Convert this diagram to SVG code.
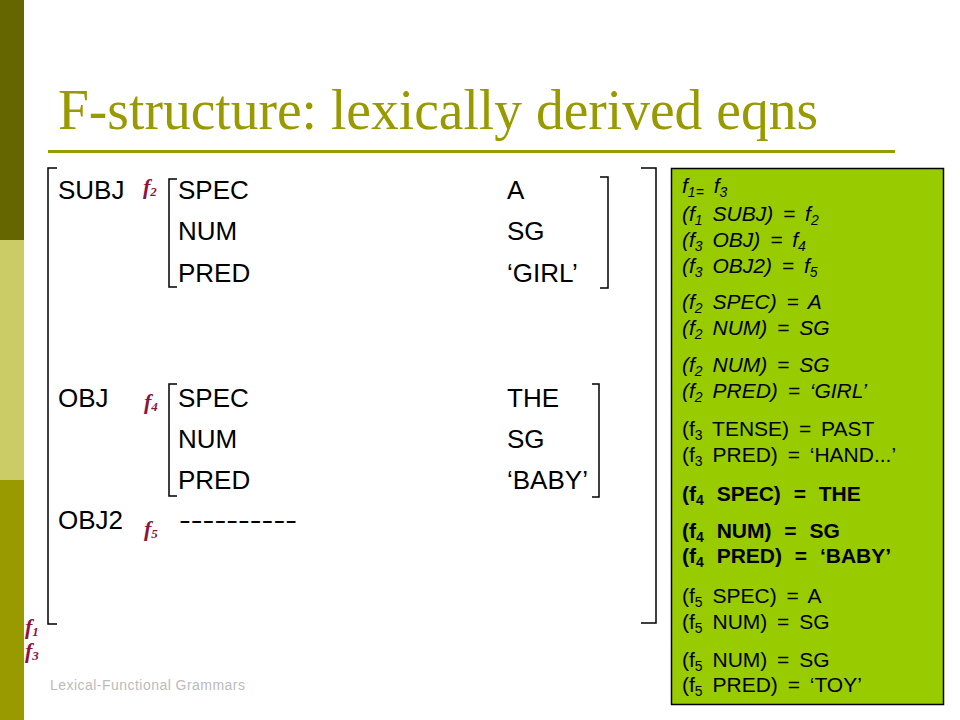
<svg xmlns="http://www.w3.org/2000/svg" width="960" height="720" viewBox="0 0 960 720">
<style>
.fs{font-family:"Liberation Sans",Arial,sans-serif;font-size:26px;fill:#000}
.lbl{font-family:"Liberation Serif","Times New Roman",serif;font-style:italic;font-weight:bold;font-size:22px;fill:#8c1440}
.lbl .s{font-size:13px}
.eq{font-family:"Liberation Sans",Arial,sans-serif;font-size:21px;fill:#000;word-spacing:4px}
.eq .s{font-size:14px}
.it{font-style:italic}
.bd{font-weight:bold;word-spacing:7px}
.br{fill:none;stroke:#000;stroke-width:1.5}
</style>
<rect x="0" y="0" width="960" height="720" fill="#fff"/>
<g id="sidebar">
<rect x="0" y="0" width="24" height="240" fill="#666600"/>
<rect x="0" y="240" width="24" height="240" fill="#cccc66"/>
<rect x="0" y="480" width="24" height="240" fill="#999900"/>
</g>
<g id="title">
<text x="58" y="129" font-family="'Liberation Serif','Times New Roman',serif" font-size="56" fill="#999900" textLength="760" lengthAdjust="spacingAndGlyphs">F-structure: lexically derived eqns</text>
<rect x="48" y="150" width="847" height="3" fill="#999900"/>
</g>
<g id="connectors"></g>
<g id="fstructure">
<g id="outer-brackets">
<path class="br" d="M57,168 H48 V624 H57"/>
<path class="br" d="M641,168 H656 V623 H641"/>
</g>
<g id="subj">
<text class="fs" x="58" y="199">SUBJ</text>
<text class="lbl" x="143" y="194">f<tspan class="s" dy="2">2</tspan></text>
<path class="br" d="M177,179 H169 V287 H177"/>
<path class="br" d="M600,177 H608 V288 H600"/>
<text class="fs" x="178" y="199">SPEC</text>
<text class="fs" x="178" y="240">NUM</text>
<text class="fs" x="178" y="282">PRED</text>
<text class="fs" x="507" y="199">A</text>
<text class="fs" x="507" y="240">SG</text>
<text class="fs" x="507" y="282">‘GIRL’</text>
</g>
<g id="obj">
<text class="fs" x="58" y="407">OBJ</text>
<text class="lbl" x="144" y="409">f<tspan class="s" dy="2">4</tspan></text>
<path class="br" d="M177,384 H169 V496 H177"/>
<path class="br" d="M592,384 H599 V497 H592"/>
<text class="fs" x="178" y="407">SPEC</text>
<text class="fs" x="178" y="448">NUM</text>
<text class="fs" x="178" y="489">PRED</text>
<text class="fs" x="507" y="407">THE</text>
<text class="fs" x="507" y="448">SG</text>
<text class="fs" x="507" y="489">‘BABY’</text>
</g>
<g id="obj2">
<text class="fs" x="58" y="529">OBJ2</text>
<text class="lbl" x="144" y="536">f<tspan class="s" dy="2">5</tspan></text>
<text class="fs" x="179" y="529" textLength="118" lengthAdjust="spacingAndGlyphs">----------</text>
</g>
<g id="f1f3">
<text class="lbl" x="25" y="634" font-size="23">f<tspan class="s" dy="2">1</tspan></text>
<text class="lbl" x="25" y="658" font-size="23">f<tspan class="s" dy="2">3</tspan></text>
</g>
</g>
<g id="equations">
<rect x="671.5" y="168.5" width="272" height="536" fill="#99cc00" stroke="#000" stroke-width="1.5"/>
<g class="eq">
<text class="it" x="682" y="193">f<tspan class="s" dy="4">1=</tspan><tspan dy="-4"> f</tspan><tspan class="s" dy="4">3</tspan></text>
<text class="it" x="682" y="221">(f<tspan class="s" dy="4">1</tspan><tspan dy="-4"> SUBJ) = f</tspan><tspan class="s" dy="4">2</tspan></text>
<text class="it" x="682" y="247">(f<tspan class="s" dy="4">3</tspan><tspan dy="-4"> OBJ) = f</tspan><tspan class="s" dy="4">4</tspan></text>
<text class="it" x="682" y="273">(f<tspan class="s" dy="4">3</tspan><tspan dy="-4"> OBJ2) = f</tspan><tspan class="s" dy="4">5</tspan></text>
<text class="it" x="682" y="309">(f<tspan class="s" dy="4">2</tspan><tspan dy="-4"> SPEC) = A</tspan></text>
<text class="it" x="682" y="335">(f<tspan class="s" dy="4">2</tspan><tspan dy="-4"> NUM) = SG</tspan></text>
<text class="it" x="682" y="372">(f<tspan class="s" dy="4">2</tspan><tspan dy="-4"> NUM) = SG</tspan></text>
<text class="it" x="682" y="398">(f<tspan class="s" dy="4">2</tspan><tspan dy="-4"> PRED) = ‘GIRL’</tspan></text>
<text x="682" y="436">(f<tspan class="s" dy="4">3</tspan><tspan dy="-4"> TENSE) = PAST</tspan></text>
<text x="682" y="462">(f<tspan class="s" dy="4">3</tspan><tspan dy="-4"> PRED) = ‘HAND...’</tspan></text>
<text class="bd" x="682" y="501">(f<tspan class="s" dy="4">4</tspan><tspan dy="-4"> SPEC) = THE</tspan></text>
<text class="bd" x="682" y="538">(f<tspan class="s" dy="4">4</tspan><tspan dy="-4"> NUM) = SG</tspan></text>
<text class="bd" x="682" y="563">(f<tspan class="s" dy="4">4</tspan><tspan dy="-4"> PRED) = ‘BABY’</tspan></text>
<text x="682" y="603">(f<tspan class="s" dy="4">5</tspan><tspan dy="-4"> SPEC) = A</tspan></text>
<text x="682" y="629">(f<tspan class="s" dy="4">5</tspan><tspan dy="-4"> NUM) = SG</tspan></text>
<text x="682" y="667">(f<tspan class="s" dy="4">5</tspan><tspan dy="-4"> NUM) = SG</tspan></text>
<text x="682" y="692">(f<tspan class="s" dy="4">5</tspan><tspan dy="-4"> PRED) = ‘TOY’</tspan></text>
</g>
</g>
<g id="footer">
<text x="50" y="690" font-family="'Liberation Sans',Arial,sans-serif" font-size="14" fill="#bbbbbb" textLength="195">Lexical-Functional Grammars</text>
</g>
</svg>
